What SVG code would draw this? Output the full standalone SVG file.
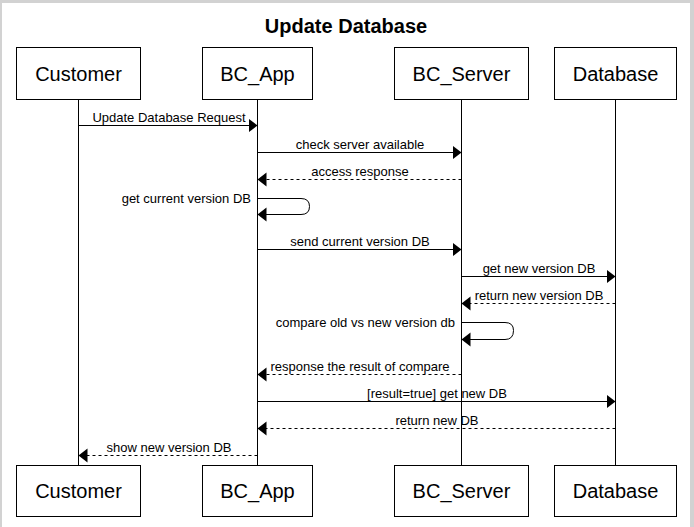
<svg xmlns="http://www.w3.org/2000/svg" width="694" height="527" viewBox="0 0 694 527">
<style>
  .frame { fill: #d2d2d2; }
  .box { fill: #ffffff; stroke: #000000; stroke-width: 1; }
  .life { stroke: #000000; stroke-width: 1; fill: none; }
  .msg { stroke: #000000; stroke-width: 1; fill: none; marker-end: url(#head); }
  .ret { stroke-dasharray: 3 3; }
  .lbl { font-family: "Liberation Sans", Arial, sans-serif; font-size: 13px; fill: #000000; text-anchor: middle; }
  .lblr { text-anchor: end; }
  .name { font-family: "Liberation Sans", Arial, sans-serif; font-size: 20px; fill: #000000; text-anchor: middle; }
  .title { font-family: "Liberation Sans", Arial, sans-serif; font-size: 20px; font-weight: bold; fill: #000000; text-anchor: middle; }
</style>
<defs>
  <marker id="head" markerUnits="userSpaceOnUse" markerWidth="10" markerHeight="16" viewBox="0 0 10 16" refX="9" refY="8" orient="auto">
    <path d="M0,1 L9,8 L0,15 Z" fill="#000000"/>
  </marker>
</defs>
<rect x="0" y="0" width="694" height="527" fill="#ffffff"/>
<rect class="frame" x="0" y="0" width="694" height="3"/>
<rect class="frame" x="0" y="0" width="2" height="527"/>
<rect class="frame" x="690" y="0" width="4" height="527"/>
<text class="title" x="346" y="33">Update Database</text>

<g id="lifelines">
  <line class="life" x1="78.5" y1="99.5" x2="78.5" y2="465.5"/>
  <line class="life" x1="257.5" y1="99.5" x2="257.5" y2="465.5"/>
  <line class="life" x1="461.5" y1="99.5" x2="461.5" y2="465.5"/>
  <line class="life" x1="615.5" y1="99.5" x2="615.5" y2="465.5"/>
</g>

<g id="customer">
  <rect class="box" x="16.5" y="47.5" width="124" height="52"/>
  <text class="name" x="78.5" y="80.5">Customer</text>
  <rect class="box" x="16.5" y="465.5" width="124" height="51"/>
  <text class="name" x="78.5" y="497.5">Customer</text>
</g>
<g id="bc_app">
  <rect class="box" x="202.5" y="47.5" width="110" height="52"/>
  <text class="name" x="257.5" y="80.5">BC_App</text>
  <rect class="box" x="202.5" y="465.5" width="110" height="51"/>
  <text class="name" x="257.5" y="497.5">BC_App</text>
</g>
<g id="bc_server">
  <rect class="box" x="394.5" y="47.5" width="134" height="52"/>
  <text class="name" x="461.5" y="80.5">BC_Server</text>
  <rect class="box" x="394.5" y="465.5" width="134" height="51"/>
  <text class="name" x="461.5" y="497.5">BC_Server</text>
</g>
<g id="database">
  <rect class="box" x="554.5" y="47.5" width="122" height="52"/>
  <text class="name" x="615.5" y="80.5">Database</text>
  <rect class="box" x="554.5" y="465.5" width="122" height="51"/>
  <text class="name" x="615.5" y="497.5">Database</text>
</g>

<g id="connectors">
  <line class="msg" x1="78.5" y1="125.5" x2="257.5" y2="125.5"/>
  <text class="lbl" x="169" y="122">Update Database Request</text>

  <line class="msg" x1="257.5" y1="152.5" x2="461.5" y2="152.5"/>
  <text class="lbl" x="360" y="149">check server available</text>

  <line class="msg ret" x1="461.5" y1="179.5" x2="257.5" y2="179.5"/>
  <text class="lbl" x="360" y="176">access response</text>

  <path class="msg" d="M257.5,198.5 H301 Q309.5,198.5 309.5,206.5 Q309.5,214.5 301,214.5 H257.5"/>
  <text class="lbl lblr" x="251" y="203">get current version DB</text>

  <line class="msg" x1="257.5" y1="249.5" x2="461.5" y2="249.5"/>
  <text class="lbl" x="360" y="246">send current version DB</text>

  <line class="msg" x1="461.5" y1="276.5" x2="615.5" y2="276.5"/>
  <text class="lbl" x="539" y="273">get new version DB</text>

  <line class="msg ret" x1="615.5" y1="303.5" x2="461.5" y2="303.5"/>
  <text class="lbl" x="539" y="300">return new version DB</text>

  <path class="msg" d="M461.5,322.5 H505 Q513.5,322.5 513.5,330.5 Q513.5,339.5 505,339.5 H461.5"/>
  <text class="lbl lblr" x="455" y="327">compare old vs new version db</text>

  <line class="msg ret" x1="461.5" y1="374.5" x2="257.5" y2="374.5"/>
  <text class="lbl" x="360" y="371">response the result of compare</text>

  <line class="msg" x1="257.5" y1="401.5" x2="615.5" y2="401.5"/>
  <text class="lbl" x="437" y="398">[result=true] get new DB</text>

  <line class="msg ret" x1="615.5" y1="428.5" x2="257.5" y2="428.5"/>
  <text class="lbl" x="437" y="425">return new DB</text>

  <line class="msg ret" x1="257.5" y1="455.5" x2="78.5" y2="455.5"/>
  <text class="lbl" x="169" y="452">show new version DB</text>
</g>
</svg>
